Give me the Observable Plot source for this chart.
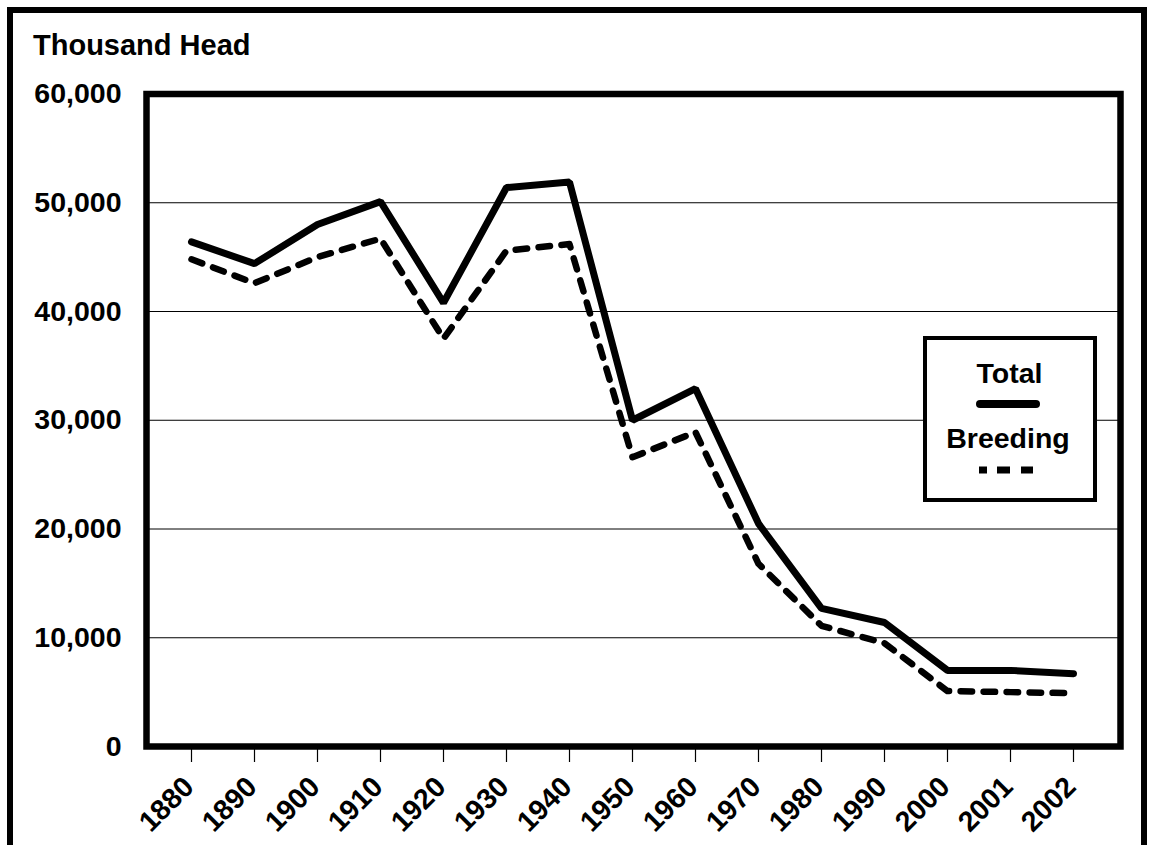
<!DOCTYPE html>
<html><head><meta charset="utf-8">
<script src="https://cdn.jsdelivr.net/npm/d3@7"></script>
<script src="https://cdn.jsdelivr.net/npm/@observablehq/plot@0.6"></script>
<style>
html,body{margin:0;padding:0;background:#fff;}
#wrap{position:relative;width:1149px;height:845px;overflow:hidden;font-family:"Liberation Sans",Arial,sans-serif;}
#border{position:absolute;left:7px;top:7px;width:1128px;height:900px;border:6px solid #000;}
#title{position:absolute;left:33px;top:31px;font-size:29px;line-height:28px;font-weight:bold;color:#000;white-space:nowrap;}
#chart{position:absolute;left:0;top:0;}
#legend{position:absolute;left:921px;top:334px;}
#legend text{font-family:"Liberation Sans",Arial,sans-serif;font-size:28.5px;font-weight:bold;}
</style></head><body>
<div id="wrap">
  <div id="border"></div>
  <div id="title">Thousand Head</div>
  <div id="chart"></div>
  <svg id="legend" width="178" height="170">
    <rect x="4" y="4" width="170" height="162" fill="#fff" stroke="#000" stroke-width="4"></rect>
    <text x="88.5" y="49" text-anchor="middle">Total</text>
    <line x1="59" x2="115" y1="70" y2="70" stroke="#000" stroke-width="8" stroke-linecap="round"></line>
    <text x="87" y="114" text-anchor="middle">Breeding</text>
    <line x1="58" x2="112" y1="136" y2="136" stroke="#000" stroke-width="7" stroke-dasharray="8 10 13 11 12 100"></line>
  </svg>
</div>
<script>
const years = ["1880","1890","1900","1910","1920","1930","1940","1950","1960","1970","1980","1990","2000","2001","2002"];
const total = [46400, 44400, 48000, 50100, 40800, 51400, 51900, 30000, 32900, 20500, 12700, 11400, 7000, 7000, 6700];
const breeding = [44800, 42600, 45000, 46700, 37500, 45600, 46200, 26600, 28900, 16800, 11100, 9500, 5100, 5000, 4900];
const yTicks = [0, 10000, 20000, 30000, 40000, 50000, 60000];

const rows = years.map((y, i) => ({year: y, total: total[i], breeding: breeding[i]}));

const chart = Plot.plot({
  width: 1149,
  height: 845,
  marginLeft: 146,
  marginRight: 29,
  marginTop: 93.5,
  marginBottom: 99,
  style: {fontFamily: "'Liberation Sans', Arial, sans-serif", fontSize: "28.5px", fontWeight: "bold", background: "transparent", overflow: "visible", color: "#000"},
  x: {type: "point", domain: years, padding: 0, insetLeft: 42, insetRight: 45},
  y: {domain: [0, 60000]},
  marks: [
    Plot.gridY(yTicks.slice(1, -1), {stroke: "#000", strokeOpacity: 1, strokeWidth: 1}),
    Plot.axisY(yTicks, {tickSize: 0, tickPadding: 25, tickFormat: d3.format(","), label: null}),
    Plot.axisX({tickSize: 16, fill: "none", label: null, strokeWidth: 1.2}),
    Plot.axisX({stroke: "none", tickSize: 0, tickPadding: 42, tickRotate: -45, textAnchor: "end", lineAnchor: "bottom", dx: 4, label: null}),
    Plot.line(rows, {x: "year", y: "breeding", stroke: "#000", strokeWidth: 6.5, strokeDasharray: "11.5 11.5"}),
    Plot.line(rows, {x: "year", y: "total", stroke: "#000", strokeWidth: 7, strokeLinecap: "round", strokeLinejoin: "miter"}),
    Plot.frame({stroke: "#000", strokeWidth: 6.5})
  ]
});
document.getElementById("chart").appendChild(chart);
</script>
</body></html>
